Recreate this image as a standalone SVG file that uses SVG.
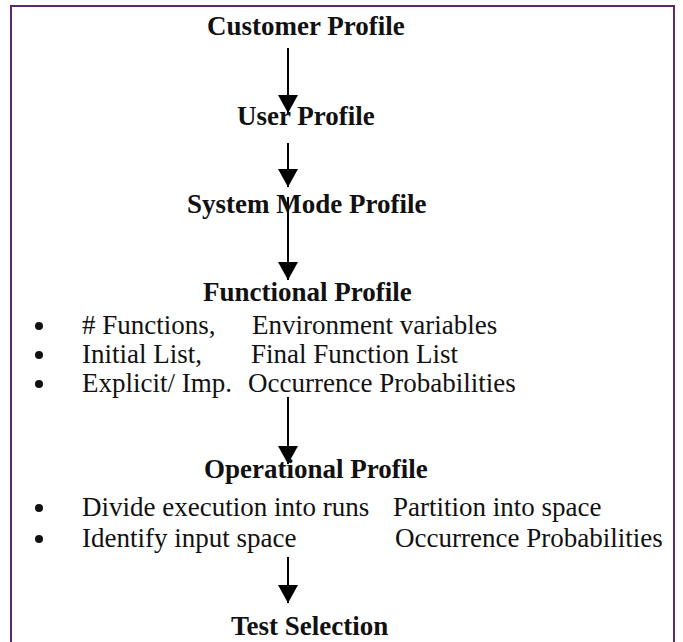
<svg xmlns="http://www.w3.org/2000/svg" width="683" height="642" viewBox="0 0 683 642">
<defs>
<style>
.h{font-family:"Liberation Serif","Times New Roman",serif;font-weight:bold;font-size:27px;fill:#111}
.t{font-family:"Liberation Serif","Times New Roman",serif;font-size:27px;fill:#111}
.c{stroke:#000;stroke-width:2;fill:none}
.b{fill:#111}
</style>
<marker id="ah" viewBox="0 0 18 20" refX="18" refY="10" markerWidth="18" markerHeight="20" markerUnits="userSpaceOnUse" orient="auto">
<path d="M0,0 L18,10 L0,20 Z" fill="#000"/>
</marker>
</defs>
<rect x="0" y="0" width="683" height="642" fill="#fff"/>
<rect x="11" y="6" width="663" height="660" fill="none" stroke="#5b2a6e" stroke-width="2"/>
<g id="connectors">
<line class="c" x1="288" y1="48" x2="288" y2="113" marker-end="url(#ah)"/>
<line class="c" x1="288" y1="143" x2="288" y2="187" marker-end="url(#ah)"/>
<line class="c" x1="288" y1="197" x2="288" y2="280" marker-end="url(#ah)"/>
<line class="c" x1="288" y1="397" x2="288" y2="464" marker-end="url(#ah)"/>
<line class="c" x1="288" y1="557" x2="288" y2="603" marker-end="url(#ah)"/>
</g>
<g id="customer"><text class="h" x="207" y="35">Customer Profile</text></g>
<g id="user"><text class="h" x="237" y="125">User Profile</text></g>
<g id="system"><text class="h" x="187" y="213">System Mode Profile</text></g>
<g id="functional">
<text class="h" x="203" y="301">Functional Profile</text>
<circle class="b" cx="39" cy="326" r="4"/><text class="t" x="82" y="334"># Functions,</text><text class="t" x="252" y="334">Environment variables</text>
<circle class="b" cx="39" cy="355" r="4"/><text class="t" x="82" y="363">Initial List,</text><text class="t" x="251" y="363">Final Function List</text>
<circle class="b" cx="39" cy="384" r="4"/><text class="t" x="82" y="392">Explicit/ Imp.</text><text class="t" x="248" y="392">Occurrence Probabilities</text>
</g>
<g id="operational">
<text class="h" x="204" y="478">Operational Profile</text>
<circle class="b" cx="39" cy="508" r="4"/><text class="t" x="82" y="516">Divide execution into runs</text><text class="t" x="393" y="516">Partition into space</text>
<circle class="b" cx="39" cy="539" r="4"/><text class="t" x="82" y="547">Identify input space</text><text class="t" x="395" y="547">Occurrence Probabilities</text>
</g>
<g id="test"><text class="h" x="231" y="635">Test Selection</text></g>
</svg>
